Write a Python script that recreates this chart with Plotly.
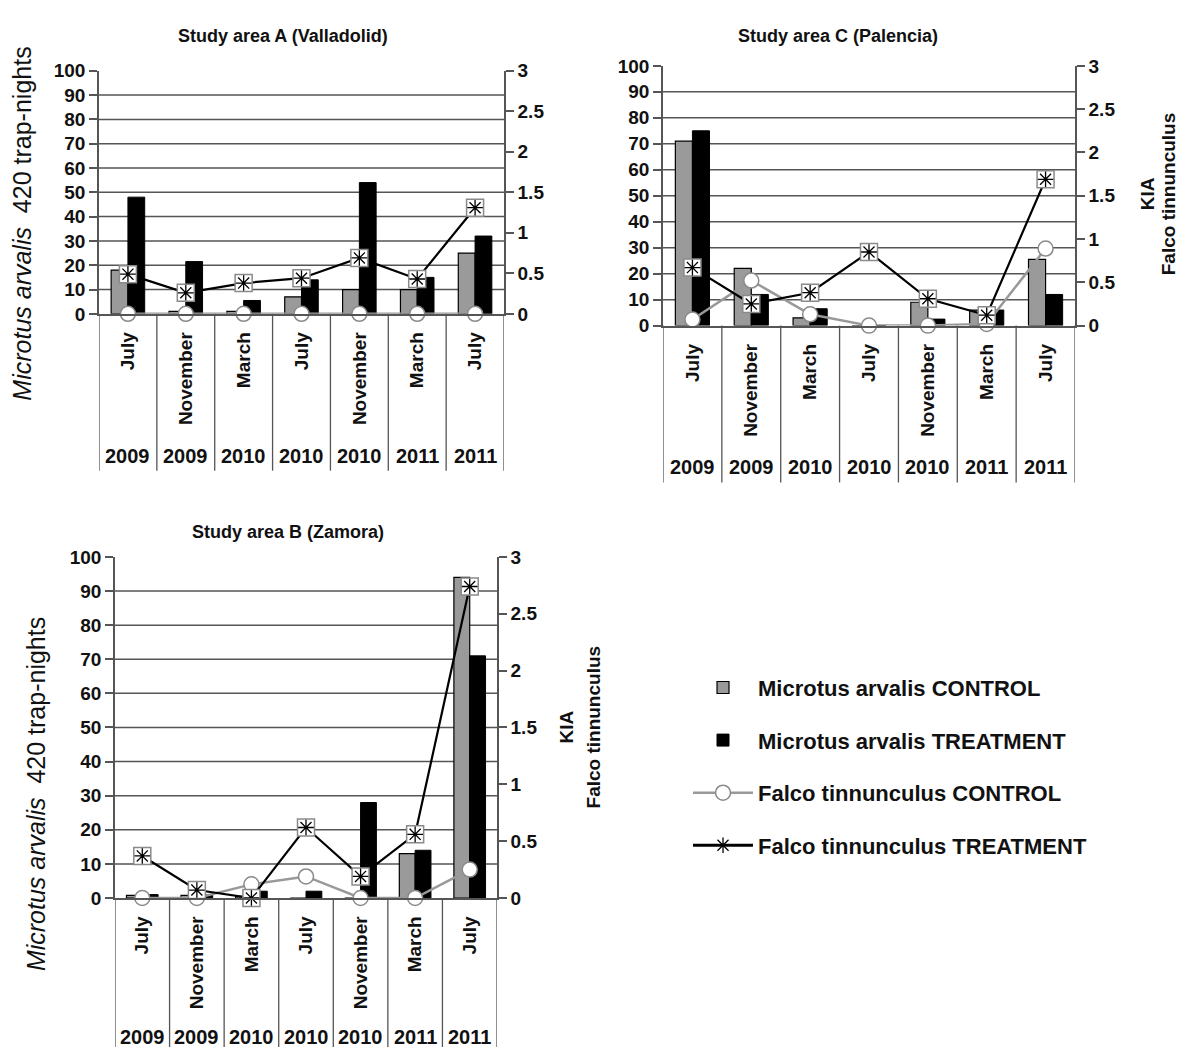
import plotly.graph_objects as go

# ---------------- data ----------------
MONTHS = ["July", "November", "March", "July", "November", "March", "July"]
YEARS = ["2009", "2009", "2010", "2010", "2010", "2011", "2011"]

A_CTRL = [18, 1, 1, 7, 10, 10, 25]
A_TRT = [48, 21.5, 5.5, 14, 54, 15, 32]
A_KIA_CTRL = [0, 0, 0, 0, 0, 0, 0]
A_KIA_TRT = [0.49, 0.26, 0.38, 0.44, 0.69, 0.43, 1.31]

C_CTRL = [71, 22, 3, 0, 9, 6, 25.5]
C_TRT = [75, 12, 6.5, 0, 2.5, 6, 12]
C_KIA_CTRL = [0.07, 0.52, 0.13, 0, 0, 0.02, 0.89]
C_KIA_TRT = [0.67, 0.25, 0.38, 0.85, 0.31, 0.12, 1.69]

B_CTRL = [0.8, 0.8, 0.5, 0, 0, 13, 94]
B_TRT = [1, 1, 2, 2, 28, 14, 71]
B_KIA_CTRL = [0, 0, 0.12, 0.19, 0, 0, 0.25]
B_KIA_TRT = [0.37, 0.07, 0.0, 0.62, 0.19, 0.56, 2.74]

LEFT_TICKS = [0, 10, 20, 30, 40, 50, 60, 70, 80, 90, 100]
GRID = [10, 20, 30, 40, 50, 60, 70, 80, 90]
RIGHT_TICKS = [0, 0.5, 1, 1.5, 2, 2.5, 3]
RIGHT_TEXT = ["0", "0.5", "1", "1.5", "2", "2.5", "3"]

NAMES = ["Microtus arvalis CONTROL", "Microtus arvalis TREATMENT",
         "Falco tinnunculus CONTROL", "Falco tinnunculus TREATMENT"]

# ---------------- layout helpers ----------------
W, H = 1178, 1058
FONT = "Liberation Sans, Arial, sans-serif"
AX = "#555555"
TXT = "#111111"


def fx(p):
    return p / W


def fy(p):
    return 1 - p / H


panels = [
    dict(title="Study area A (Valladolid)", ctrl=A_CTRL, trt=A_TRT, kc=A_KIA_CTRL, kt=A_KIA_TRT,
         box=(99, 504, 62, 310), title_xy=(283, 27), year_y=455, div_bottom=470,
         ytitle=(22, 218), rtitle=None),
    dict(title="Study area C (Palencia)", ctrl=C_CTRL, trt=C_TRT, kc=C_KIA_CTRL, kt=C_KIA_TRT,
         box=(663, 1075, 57, 322), title_xy=(838, 27), year_y=466, div_bottom=482,
         ytitle=None, rtitle=(1147, 1168, 188)),
    dict(title="Study area B (Zamora)", ctrl=B_CTRL, trt=B_TRT, kc=B_KIA_CTRL, kt=B_KIA_TRT,
         box=(115, 497, 558, 906), title_xy=(288, 533), year_y=1048, div_bottom=1058,
         ytitle=(36, 800), rtitle=(566, 593, 732)),
]

fig = go.Figure()
layout = {}
shapes = []
annotations = []
cats = list(range(len(MONTHS)))

for i, p in enumerate(panels):
    xa = "x" if i == 0 else f"x{i + 1}"
    ya = "y" if i == 0 else f"y{2 * i + 1}"
    yb = f"y{2 * i + 2}"
    first = i == 0
    x0, x1, ytop, ybot = p["box"]

    fig.add_trace(go.Bar(x=cats, y=p["ctrl"], name=NAMES[0], showlegend=first,
                         legendgroup="g1", legendrank=1,
                         marker=dict(color="#9a9a9a", line=dict(color="#000", width=1.2)),
                         xaxis=xa, yaxis=ya))
    fig.add_trace(go.Bar(x=cats, y=p["trt"], name=NAMES[1], showlegend=first,
                         legendgroup="g2", legendrank=2,
                         marker=dict(color="#000", line=dict(color="#000", width=1)),
                         xaxis=xa, yaxis=ya))
    fig.add_trace(go.Scatter(x=cats, y=p["kc"], name=NAMES[2], showlegend=first,
                             legendgroup="g3", legendrank=3, mode="lines+markers",
                             line=dict(color="#999999", width=2.5),
                             marker=dict(symbol="circle", size=15, color="white",
                                         line=dict(color="#8a8a8a", width=1.5)),
                             cliponaxis=False, xaxis=xa, yaxis=yb))
    fig.add_trace(go.Scatter(x=cats, y=p["kt"], showlegend=False, mode="lines+markers",
                             line=dict(color="#000", width=2.2),
                             marker=dict(symbol="square", size=17, color="white",
                                         line=dict(color="#8a8a8a", width=1.5)),
                             cliponaxis=False, xaxis=xa, yaxis=yb))
    fig.add_trace(go.Scatter(x=cats, y=p["kt"], showlegend=False, mode="markers",
                             marker=dict(symbol="asterisk-open", size=13, color="#000",
                                         line=dict(color="#222", width=1.3)),
                             cliponaxis=False, xaxis=xa, yaxis=yb))

    xkey = "xaxis" if i == 0 else f"xaxis{i + 1}"
    yakey = "yaxis" if i == 0 else f"yaxis{2 * i + 1}"
    ybkey = f"yaxis{2 * i + 2}"
    layout[xkey] = dict(domain=[fx(x0), fx(x1)], anchor=ya, range=[-0.5, len(cats) - 0.5],
                        tickvals=cats, ticktext=MONTHS, tickangle=-90, ticks="",
                        showline=True, linecolor=AX, linewidth=1.5, showgrid=False,
                        zeroline=False, ticklabelstandoff=9,
                        tickfont=dict(family=FONT, size=19, color=TXT, weight="bold"))
    layout[yakey] = dict(domain=[fy(ybot), fy(ytop)], anchor=xa, range=[0, 100],
                         tickvals=LEFT_TICKS, ticks="outside", ticklen=8, tickcolor=AX,
                         tickwidth=1.5, showline=True, linecolor=AX, linewidth=1.5,
                         showgrid=False, zeroline=False,
                         tickfont=dict(family=FONT, size=19, color=TXT, weight="bold"))
    layout[ybkey] = dict(overlaying=ya, side="right", anchor=xa, range=[0, 3],
                         tickvals=RIGHT_TICKS, ticktext=RIGHT_TEXT, ticks="outside",
                         ticklen=8, tickcolor=AX, tickwidth=1.5, showline=True,
                         linecolor=AX, linewidth=1.5, showgrid=False, zeroline=False,
                         tickfont=dict(family=FONT, size=19, color=TXT, weight="bold"))

    for g in GRID:
        shapes.append(dict(type="line", xref=f"{xa} domain", x0=0, x1=1, yref=ya, y0=g, y1=g,
                           line=dict(color=AX, width=1.5), layer="below"))
    for k in range(len(cats) + 1):
        shapes.append(dict(type="line", xref=xa, x0=k - 0.5, x1=k - 0.5, yref="paper",
                           y0=fy(ybot), y1=fy(p["div_bottom"]),
                           line=dict(color=AX, width=1.3)))
    for k, yr in enumerate(YEARS):
        annotations.append(dict(x=k, xref=xa, y=fy(p["year_y"]), yref="paper", text=yr,
                                showarrow=False, xanchor="center", yanchor="middle",
                                font=dict(family=FONT, size=20, color=TXT, weight="bold")))
    tx, ty = p["title_xy"]
    annotations.append(dict(x=fx(tx), y=fy(ty), xref="paper", yref="paper", text=p["title"],
                            showarrow=False, xanchor="center", yanchor="middle",
                            font=dict(family=FONT, size=18, color=TXT, weight="bold")))
    if p["ytitle"]:
        lx, ly = p["ytitle"]
        annotations.append(dict(x=fx(lx), y=fy(ly), xref="paper", yref="paper",
                                text="<i>Microtus arvalis</i>  420 trap-nights",
                                textangle=-90, showarrow=False, xanchor="center",
                                yanchor="middle",
                                font=dict(family=FONT, size=25, color=TXT)))
    if p["rtitle"]:
        kx, fxp, cy = p["rtitle"]
        annotations.append(dict(x=fx(kx), y=fy(cy), xref="paper", yref="paper", text="KIA",
                                textangle=-90, showarrow=False, xanchor="center",
                                yanchor="middle",
                                font=dict(family=FONT, size=19, color=TXT, weight="bold")))
        annotations.append(dict(x=fx(fxp), y=fy(cy), xref="paper", yref="paper",
                                text="Falco tinnunculus", textangle=-90, showarrow=False,
                                xanchor="center", yanchor="middle",
                                font=dict(family=FONT, size=19, color=TXT, weight="bold")))

# legend-only entry for the treatment kestrel series (line + asterisk)
fig.add_trace(go.Scatter(x=[None], y=[None], name=NAMES[3], legendgroup="g4", legendrank=4,
                         mode="lines+markers", line=dict(color="#000", width=3),
                         marker=dict(symbol="asterisk-open", size=13,
                                     line=dict(color="#000", width=1.3)),
                         xaxis="x", yaxis="y2"))

fig.update_layout(
    width=W, height=H, margin=dict(l=0, r=0, t=0, b=0),
    paper_bgcolor="white", plot_bgcolor="white",
    barmode="group", bargap=0.42, bargroupgap=0,
    shapes=shapes, annotations=annotations,
    legend=dict(x=fx(688), y=fy(670), xanchor="left", yanchor="top",
                traceorder="grouped", tracegroupgap=21, itemwidth=60,
                font=dict(family=FONT, size=22, color=TXT, weight="bold"),
                bgcolor="rgba(0,0,0,0)"),
    **layout,
)

fig.write_html("out.html", config={"displayModeBar": False},
               post_script="document.body.style.margin='0';")
